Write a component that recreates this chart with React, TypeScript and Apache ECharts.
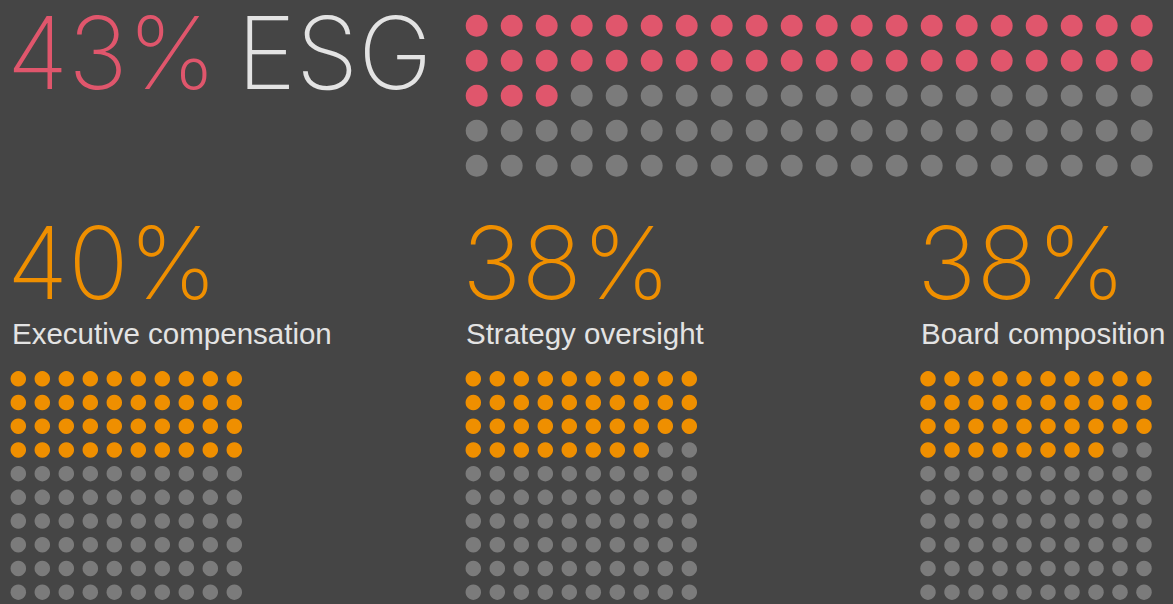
import React, { useEffect, useRef } from "react";
import * as echarts from "echarts";

const BG = "#454545";
const PINK = "#E0566C";
const ORANGE = "#EF8F00";
const GREY = "#7B7B7B";
const LIGHT = "#E3E3E3";

const headlineValue = 43;
const headlineLabel = "ESG";
const headlineCols = 20;
const headlineRows = 5;

const categories = ["Executive compensation", "Strategy oversight", "Board composition"];
const categoryValues = [40, 38, 38];
const smallCols = 10;
const smallRows = 10;

function buildDots(value: number, cols: number, rows: number) {
  const on: number[][] = [];
  const off: number[][] = [];
  for (let i = 0; i < cols * rows; i++) {
    const pt = [i % cols, Math.floor(i / cols)];
    (i < value ? on : off).push(pt);
  }
  return { on, off };
}

export default function App() {
  const ref = useRef<HTMLDivElement>(null);
  useEffect(() => {
    document.body.style.margin = "0";
    document.body.style.background = BG;
    const chart = echarts.init(ref.current!, null, { renderer: "svg" });

    const grids: any[] = [];
    const xAxes: any[] = [];
    const yAxes: any[] = [];
    const series: any[] = [];

    const addGrid = (left: number, top: number, cols: number, rows: number, step: number, value: number, color: string, size: number) => {
      const idx = grids.length;
      grids.push({ left, top, width: cols * step, height: rows * step, containLabel: false });
      xAxes.push({ type: "value", gridIndex: idx, min: -0.5, max: cols - 0.5, show: false });
      yAxes.push({ type: "value", gridIndex: idx, min: -0.5, max: rows - 0.5, inverse: true, show: false });
      const { on, off } = buildDots(value, cols, rows);
      series.push({ type: "scatter", xAxisIndex: idx, yAxisIndex: idx, data: on, symbolSize: size, itemStyle: { color, opacity: 1 }, silent: true });
      series.push({ type: "scatter", xAxisIndex: idx, yAxisIndex: idx, data: off, symbolSize: size, itemStyle: { color: GREY, opacity: 1 }, silent: true });
    };

    addGrid(459.2, 8.2, headlineCols, headlineRows, 35, headlineValue, PINK, 22);
    const smallLefts = [6.3, 461.3, 916];
    categoryValues.forEach((v, i) => addGrid(smallLefts[i], 367, smallCols, smallRows, 24, v, ORANGE, 15.5));

    const bigFont = (color: string) => ({ fontFamily: "Inter", fontWeight: 200, fontSize: 100, lineHeight: 80, fill: color });
    const labelFont = { fontFamily: "Liberation Sans, Arial, sans-serif", fontWeight: 400, fontSize: 29.5, lineHeight: 30, fill: LIGHT };
    const numX = [7, 462, 917];
    const labelX = [12, 466, 921];
    const graphic: any[] = [
      { type: "text", x: 7, y: 52, style: { ...bigFont(PINK), text: headlineValue + "%", verticalAlign: "middle" } },
      { type: "text", x: 237, y: 52, style: { ...bigFont(LIGHT), text: headlineLabel, verticalAlign: "middle" } },
    ];
    categories.forEach((c, i) => {
      graphic.push({ type: "text", x: numX[i], y: 262, style: { ...bigFont(ORANGE), text: categoryValues[i] + "%", verticalAlign: "middle" } });
      graphic.push({ type: "text", x: labelX[i], y: 333, style: { ...labelFont, text: c, verticalAlign: "middle" } });
    });

    chart.setOption({
      animation: false,
      backgroundColor: BG,
      grid: grids,
      xAxis: xAxes,
      yAxis: yAxes,
      series,
      graphic,
    });
    return () => chart.dispose();
  }, []);
  return <div ref={ref} style={{ width: 1173, height: 604 }} />;
}
